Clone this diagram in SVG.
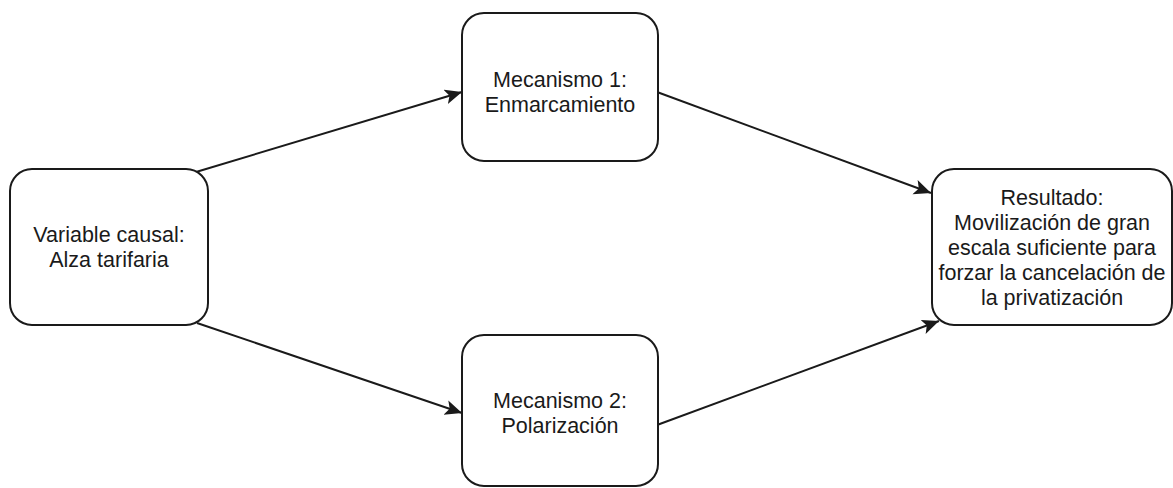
<svg xmlns="http://www.w3.org/2000/svg" width="1173" height="488" viewBox="0 0 1173 488">
  <style>
    .box { fill: #ffffff; stroke: #1a1a1a; stroke-width: 2; }
    .lbl { font-family: "Liberation Sans", Arial, Helvetica, sans-serif; font-size: 21.5px; fill: #1a1a1a; text-anchor: middle; }
    .edge { fill: none; stroke: #1a1a1a; stroke-width: 2; }
  </style>
  <defs>
    <marker id="arrow" markerUnits="userSpaceOnUse" markerWidth="20" markerHeight="16" refX="17" refY="7.5" orient="auto">
      <path d="M0,0 L17,7.5 L0,15 L4,7.5 z" fill="#1a1a1a"/>
    </marker>
  </defs>
  <rect width="1173" height="488" fill="#ffffff"/>

  <g id="connectors">
    <line class="edge" x1="196" y1="172" x2="462" y2="92" marker-end="url(#arrow)"/>
    <line class="edge" x1="657" y1="92" x2="931" y2="193" marker-end="url(#arrow)"/>
    <line class="edge" x1="197" y1="323" x2="462" y2="413" marker-end="url(#arrow)"/>
    <line class="edge" x1="657" y1="425" x2="939" y2="321" marker-end="url(#arrow)"/>
  </g>

  <g id="variable-causal">
    <rect class="box" x="10" y="169" width="198" height="156" rx="22" ry="22"/>
    <text class="lbl" x="109" y="242">Variable causal:</text>
    <text class="lbl" x="109" y="267">Alza tarifaria</text>
  </g>

  <g id="mecanismo-1">
    <rect class="box" x="462" y="13" width="196" height="148" rx="22" ry="22"/>
    <text class="lbl" x="560" y="87">Mecanismo 1:</text>
    <text class="lbl" x="560" y="112">Enmarcamiento</text>
  </g>

  <g id="mecanismo-2">
    <rect class="box" x="462" y="335" width="196" height="151" rx="22" ry="22"/>
    <text class="lbl" x="560" y="408">Mecanismo 2:</text>
    <text class="lbl" x="560" y="433">Polarización</text>
  </g>

  <g id="resultado">
    <rect class="box" x="932" y="169" width="240" height="156" rx="22" ry="22"/>
    <text class="lbl" x="1052" y="205">Resultado:</text>
    <text class="lbl" x="1052" y="230">Movilización de gran</text>
    <text class="lbl" x="1052" y="255">escala suficiente para</text>
    <text class="lbl" x="1052" y="280">forzar la cancelación de</text>
    <text class="lbl" x="1052" y="305">la privatización</text>
  </g>
</svg>
